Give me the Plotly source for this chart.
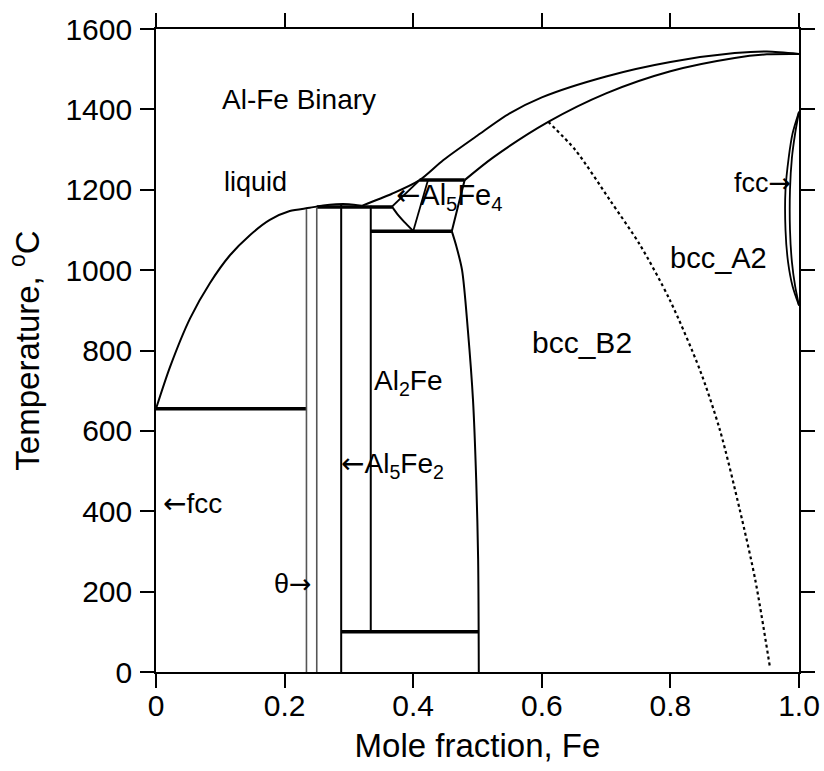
import plotly.graph_objects as go

# Al-Fe binary phase diagram: phase boundaries as (mole fraction Fe, temperature in C)

# liquidus on the Al-rich side, up to the Al5Fe2 maximum
liq_al_x = [0.0, 0.022, 0.053, 0.084, 0.115, 0.146, 0.177, 0.208, 0.239, 0.26, 0.28, 0.30, 0.32]
liq_al_t = [655, 760, 880, 968, 1037, 1087, 1125, 1147, 1155, 1161, 1164, 1164, 1160]

# liquidus on the Fe-rich side (liquid / liquid + bcc)
liq_fe_x = [0.32, 0.367, 0.41, 0.447, 0.5, 0.55, 0.6, 0.7, 0.8, 0.9, 0.95, 1.0]
liq_fe_t = [1160, 1190, 1224, 1274, 1335, 1390, 1430, 1482, 1518, 1540, 1544, 1538]

# bcc solidus
sol_x = [0.48, 0.524, 0.61, 0.7, 0.8, 0.9, 0.95, 1.0]
sol_t = [1224, 1280, 1369, 1440, 1495, 1528, 1537, 1538]

# B2 / A2 ordering transition
order_x = [0.61, 0.652, 0.706, 0.753, 0.799, 0.846, 0.877, 0.908, 0.932, 0.955]
order_t = [1369, 1299, 1174, 1062, 926, 751, 602, 403, 229, 10]

# B2 boundary below the Al5Fe4 eutectoid
b2_x = [0.46, 0.467, 0.476, 0.485, 0.493, 0.498, 0.501, 0.502]
b2_t = [1097, 1060, 1000, 851, 677, 478, 279, 0]

# Al5Fe4 field
al5fe4_upper_x = [0.367, 0.41]
al5fe4_upper_t = [1158, 1224]
al5fe4_lower_x = [0.367, 0.377, 0.386, 0.394, 0.40]
al5fe4_lower_t = [1158, 1136, 1120, 1107, 1097]
al5fe4_inner_x = [0.423, 0.40]
al5fe4_inner_t = [1224, 1097]
al5fe4_right_x = [0.48, 0.46]
al5fe4_right_t = [1224, 1097]

# gamma loop at the Fe end
gamma_outer_x = [1.0, 0.99, 0.984, 0.979, 0.979, 0.983, 0.99, 1.0]
gamma_outer_t = [1394, 1340, 1280, 1200, 1100, 1020, 960, 912]
gamma_inner_x = [1.0, 0.994, 0.989, 0.986, 0.986, 0.989, 0.994, 1.0]
gamma_inner_t = [1394, 1340, 1280, 1200, 1100, 1020, 960, 912]

# invariant (horizontal) lines: x_start, x_end, temperature
inv_x0 = [0.0, 0.25, 0.41, 0.334, 0.288]
inv_x1 = [0.234, 0.367, 0.48, 0.46, 0.502]
inv_t = [655, 1157, 1224, 1097, 100]

# vertical compound boundaries: x, t_bottom, t_top
theta_x = [0.234, 0.25]
theta_t0 = [0, 0]
theta_t1 = [1152, 1157]
comp_x = [0.288, 0.334]
comp_t0 = [0, 100]
comp_t1 = [1164, 1160]

fig = go.Figure()

def add_line(x, t, width=2.0, color="black", dash="solid", smooth=True):
    fig.add_trace(go.Scatter(x=x, y=t, mode="lines", showlegend=False, hoverinfo="skip",
                             line=dict(color=color, width=width, dash=dash,
                                       shape="spline" if smooth else "linear",
                                       smoothing=0.8)))

add_line(liq_al_x, liq_al_t)
add_line(liq_fe_x, liq_fe_t)
add_line(sol_x, sol_t)
add_line(order_x, order_t, width=2.2, dash="dot")
add_line(b2_x, b2_t)
add_line(al5fe4_upper_x, al5fe4_upper_t)
add_line(al5fe4_lower_x, al5fe4_lower_t)
add_line(al5fe4_inner_x, al5fe4_inner_t, width=1.8)
add_line(al5fe4_right_x, al5fe4_right_t)
add_line(gamma_outer_x, gamma_outer_t, width=1.8)
add_line(gamma_inner_x, gamma_inner_t, width=1.8)

for x0, x1, t in zip(inv_x0, inv_x1, inv_t):
    add_line([x0, x1], [t, t], width=3.5, smooth=False)

for x, t0, t1 in zip(theta_x, theta_t0, theta_t1):
    add_line([x, x], [t0, t1], width=1.6, color="#555555", smooth=False)

for x, t0, t1 in zip(comp_x, comp_t0, comp_t1):
    add_line([x, x], [t0, t1], width=2.0, smooth=False)

font_family = "Liberation Sans, Arial, Helvetica, sans-serif"
LA = '<span style="font-family:DejaVu Sans">\u2190</span>'
RA = '<span style="font-family:DejaVu Sans">\u2192</span>'

labels = [
    (0.10, 1425, "Al-Fe Binary", "left", 28),
    (0.103, 1219, "liquid", "left", 27),
    (0.336, 720, "Al<sub>2</sub>Fe", "left", 28),
    (0.284, 515, LA + "Al<sub>5</sub>Fe<sub>2</sub>", "left", 28),
    (0.008, 420, LA + "fcc", "left", 28),
    (0.245, 221, "\u03b8" + RA, "right", 27),
    (0.370, 1182, LA + "Al<sub>5</sub>Fe<sub>4</sub>", "left", 29),
    (0.99, 1217, "fcc" + RA, "right", 27),
    (0.796, 1030, "bcc_A2", "left", 29),
    (0.582, 821, "bcc_B2", "left", 30),
]
for x, t, txt, anchor, size in labels:
    fig.add_annotation(x=x, y=t, text=txt, showarrow=False, xanchor=anchor, yanchor="middle",
                       font=dict(family=font_family, size=size, color="black"))

axis_common = dict(showline=True, linecolor="black", linewidth=1.6, mirror="allticks",
                   ticks="outside", ticklen=14, tickwidth=1.6, tickcolor="black",
                   showgrid=False, zeroline=False, automargin=False,
                   tickfont=dict(family=font_family, size=30, color="black"))

fig.update_layout(
    width=824, height=771,
    margin=dict(l=156, r=25, t=29, b=99, autoexpand=False),
    paper_bgcolor="white", plot_bgcolor="white",
    xaxis=dict(range=[0, 1], tickvals=[0, 0.2, 0.4, 0.6, 0.8, 1.0],
               ticktext=["0", "0.2", "0.4", "0.6", "0.8", "1.0"],
               ticklabelstandoff=-8,
               title=dict(text="Mole fraction, Fe", standoff=13,
                          font=dict(family=font_family, size=33, color="black")),
               **axis_common),
    yaxis=dict(range=[0, 1600], tickvals=list(range(0, 1601, 200)),
               ticklabelstandoff=2,
               title=dict(text="Temperature, <sup>o</sup>C", standoff=16,
                          font=dict(family=font_family, size=33, color="black")),
               **axis_common),
)

fig.write_html("out.html")
